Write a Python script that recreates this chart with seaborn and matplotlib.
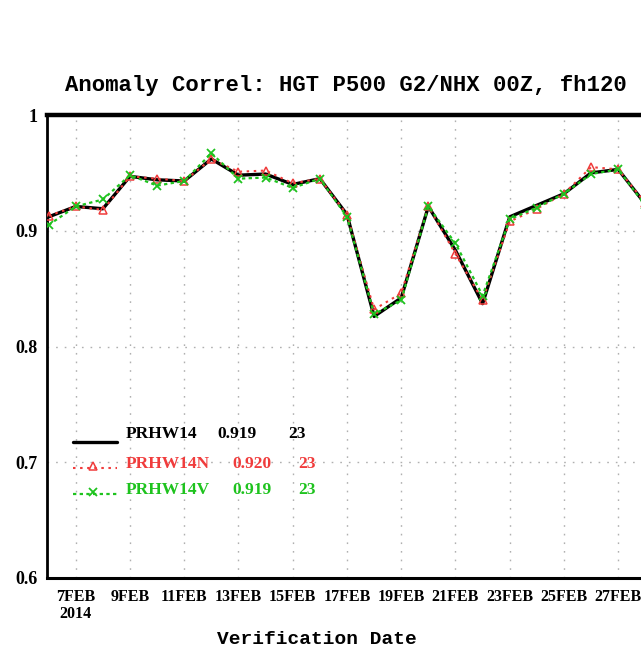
import matplotlib
matplotlib.use("Agg")
import matplotlib.pyplot as plt
from matplotlib.lines import Line2D
import numpy as np
import pandas as pd
import seaborn as sns

# Verification days (February 2014) and 500 hPa height anomaly correlations
days = list(range(6, 29))
prhw14 = [0.912, 0.921, 0.919, 0.947, 0.944, 0.943, 0.962, 0.948, 0.949, 0.940,
          0.945, 0.914, 0.826, 0.842, 0.921, 0.883, 0.837, 0.912, 0.922, 0.932,
          0.950, 0.953, 0.923]
prhw14n = [0.913, 0.921, 0.918, 0.947, 0.945, 0.943, 0.962, 0.951, 0.952, 0.941,
           0.945, 0.914, 0.832, 0.846, 0.921, 0.880, 0.840, 0.908, 0.919, 0.932,
           0.955, 0.953, 0.924]
prhw14v = [0.905, 0.921, 0.927, 0.948, 0.939, 0.943, 0.967, 0.945, 0.946, 0.937,
           0.945, 0.912, 0.828, 0.840, 0.921, 0.889, 0.844, 0.910, 0.920, 0.932,
           0.949, 0.953, 0.922]
series_names = ["PRHW14", "PRHW14N", "PRHW14V"]
series_colors = ["black", "#f03c3c", "#1ec31e"]

tick_days = [7, 9, 11, 13, 15, 17, 19, 21, 23, 25, 27]
tick_labels = ["7FEB\n2014", "9FEB", "11FEB", "13FEB", "15FEB", "17FEB",
               "19FEB", "21FEB", "23FEB", "25FEB", "27FEB"]
y_ticks = [0.6, 0.7, 0.8, 0.9, 1.0]
y_tick_labels = ["0.6", "0.7", "0.8", "0.9", "1"]

title = "Anomaly Correl: HGT P500 G2/NHX 00Z, fh120"
xlabel = "Verification Date"

sns.set_theme(style="white")
plt.rcParams["font.family"] = ["Liberation Serif", "DejaVu Serif"]
plt.rcParams["text.color"] = "black"

W, H = 641, 656
fig = plt.figure(figsize=(W / 100, H / 100), dpi=100)
fig.patch.set_facecolor("white")
ax = fig.add_axes([47 / W, (H - 578) / H, 594 / W, 463 / H])
ax.set_facecolor("white")

df = pd.DataFrame({"day": days, "PRHW14": prhw14, "PRHW14N": prhw14n, "PRHW14V": prhw14v})

red_marker = dict(marker="^", markersize=5.5, markerfacecolor="none",
                  markeredgecolor=series_colors[1], markeredgewidth=1.1)
green_marker = dict(marker="x", markersize=5.5, markeredgewidth=1.3,
                    markeredgecolor=series_colors[2])
styles = [
    dict(color=series_colors[0], linewidth=2.4, linestyle="-"),
    dict(color=series_colors[1], linewidth=1.5, linestyle=(0, (1.2, 2.2))),
    dict(color=series_colors[2], linewidth=1.6, linestyle=(0, (1.5, 1.5))),
]

sns.lineplot(data=df, x="day", y="PRHW14", ax=ax, zorder=3, **styles[0])
sns.lineplot(data=df, x="day", y="PRHW14N", ax=ax, zorder=4, **styles[1], **red_marker)
sns.lineplot(data=df, x="day", y="PRHW14V", ax=ax, zorder=5, **styles[2], **green_marker)

ax.set_xlim(5.94, 27.84)
ax.set_ylim(0.6, 1.0)
ax.set_xticks(tick_days)
ax.set_xticklabels(tick_labels, fontsize=11.5, fontweight="bold", linespacing=1.1)
ax.set_yticks(y_ticks)
ax.set_yticklabels(y_tick_labels, fontsize=13, fontweight="bold")
ax.set_xlabel("")
ax.set_ylabel("")

ax.grid(True, color="#b0b0b0", linestyle=(0, (1.2, 5)), linewidth=1.0)
ax.set_axisbelow(True)

ax.spines["right"].set_visible(False)
ax.spines["top"].set_linewidth(3.2)
ax.spines["left"].set_linewidth(2.0)
ax.spines["bottom"].set_linewidth(2.2)
for side in ("top", "left", "bottom"):
    ax.spines[side].set_color("black")
ax.tick_params(axis="x", direction="out", length=5, width=1.2, pad=3,
               colors="black", labelcolor="black")
ax.tick_params(axis="y", direction="out", length=4, width=2.0, pad=3,
               colors="black", labelcolor="black")

# Legend block: sample line, run name, mean correlation and number of cases
def ax_frac(px, py):
    return (px - 47) / 594, (578 - py) / 463

rows = [
    (prhw14, 442, 433.5, 217, 288),
    (prhw14n, 468, 463.5, 232, 298),
    (prhw14v, 494, 489.5, 232, 298),
]
markers = [None, red_marker, green_marker]
for i, (vals, ly, ty, xv, xn) in enumerate(rows):
    x0, y0 = ax_frac(73, ly)
    x1, _ = ax_frac(117, ly)
    ax.add_line(Line2D([x0, x1], [y0, y0], transform=ax.transAxes, zorder=6, **styles[i]))
    if markers[i]:
        xm, ym = ax_frac(93, ly - 2)
        ax.add_line(Line2D([xm], [ym], transform=ax.transAxes, zorder=7,
                           linestyle="none", **markers[i]))
    _, yt = ax_frac(0, ty)
    kw = dict(transform=ax.transAxes, va="center", ha="left", fontsize=12.5,
              fontweight="bold", color=series_colors[i], zorder=7)
    ax.text(ax_frac(126, 0)[0], yt, series_names[i], **kw)
    ax.text(ax_frac(xv, 0)[0], yt, f"{np.mean(vals):.3f}", **kw)
    ax.text(ax_frac(xn, 0)[0], yt, f"{len(vals)}", **kw)

fig.text(346 / W, 1 - 86 / H, title, ha="center", va="center", fontsize=16,
         family=["Liberation Mono", "DejaVu Sans Mono"], fontweight="bold", color="black")
fig.text(317 / W, 1 - 640 / H, xlabel, ha="center", va="center", fontsize=14,
         family=["Liberation Mono", "DejaVu Sans Mono"], fontweight="bold", color="black")

fig.savefig("out.png", dpi=100, facecolor="white")
